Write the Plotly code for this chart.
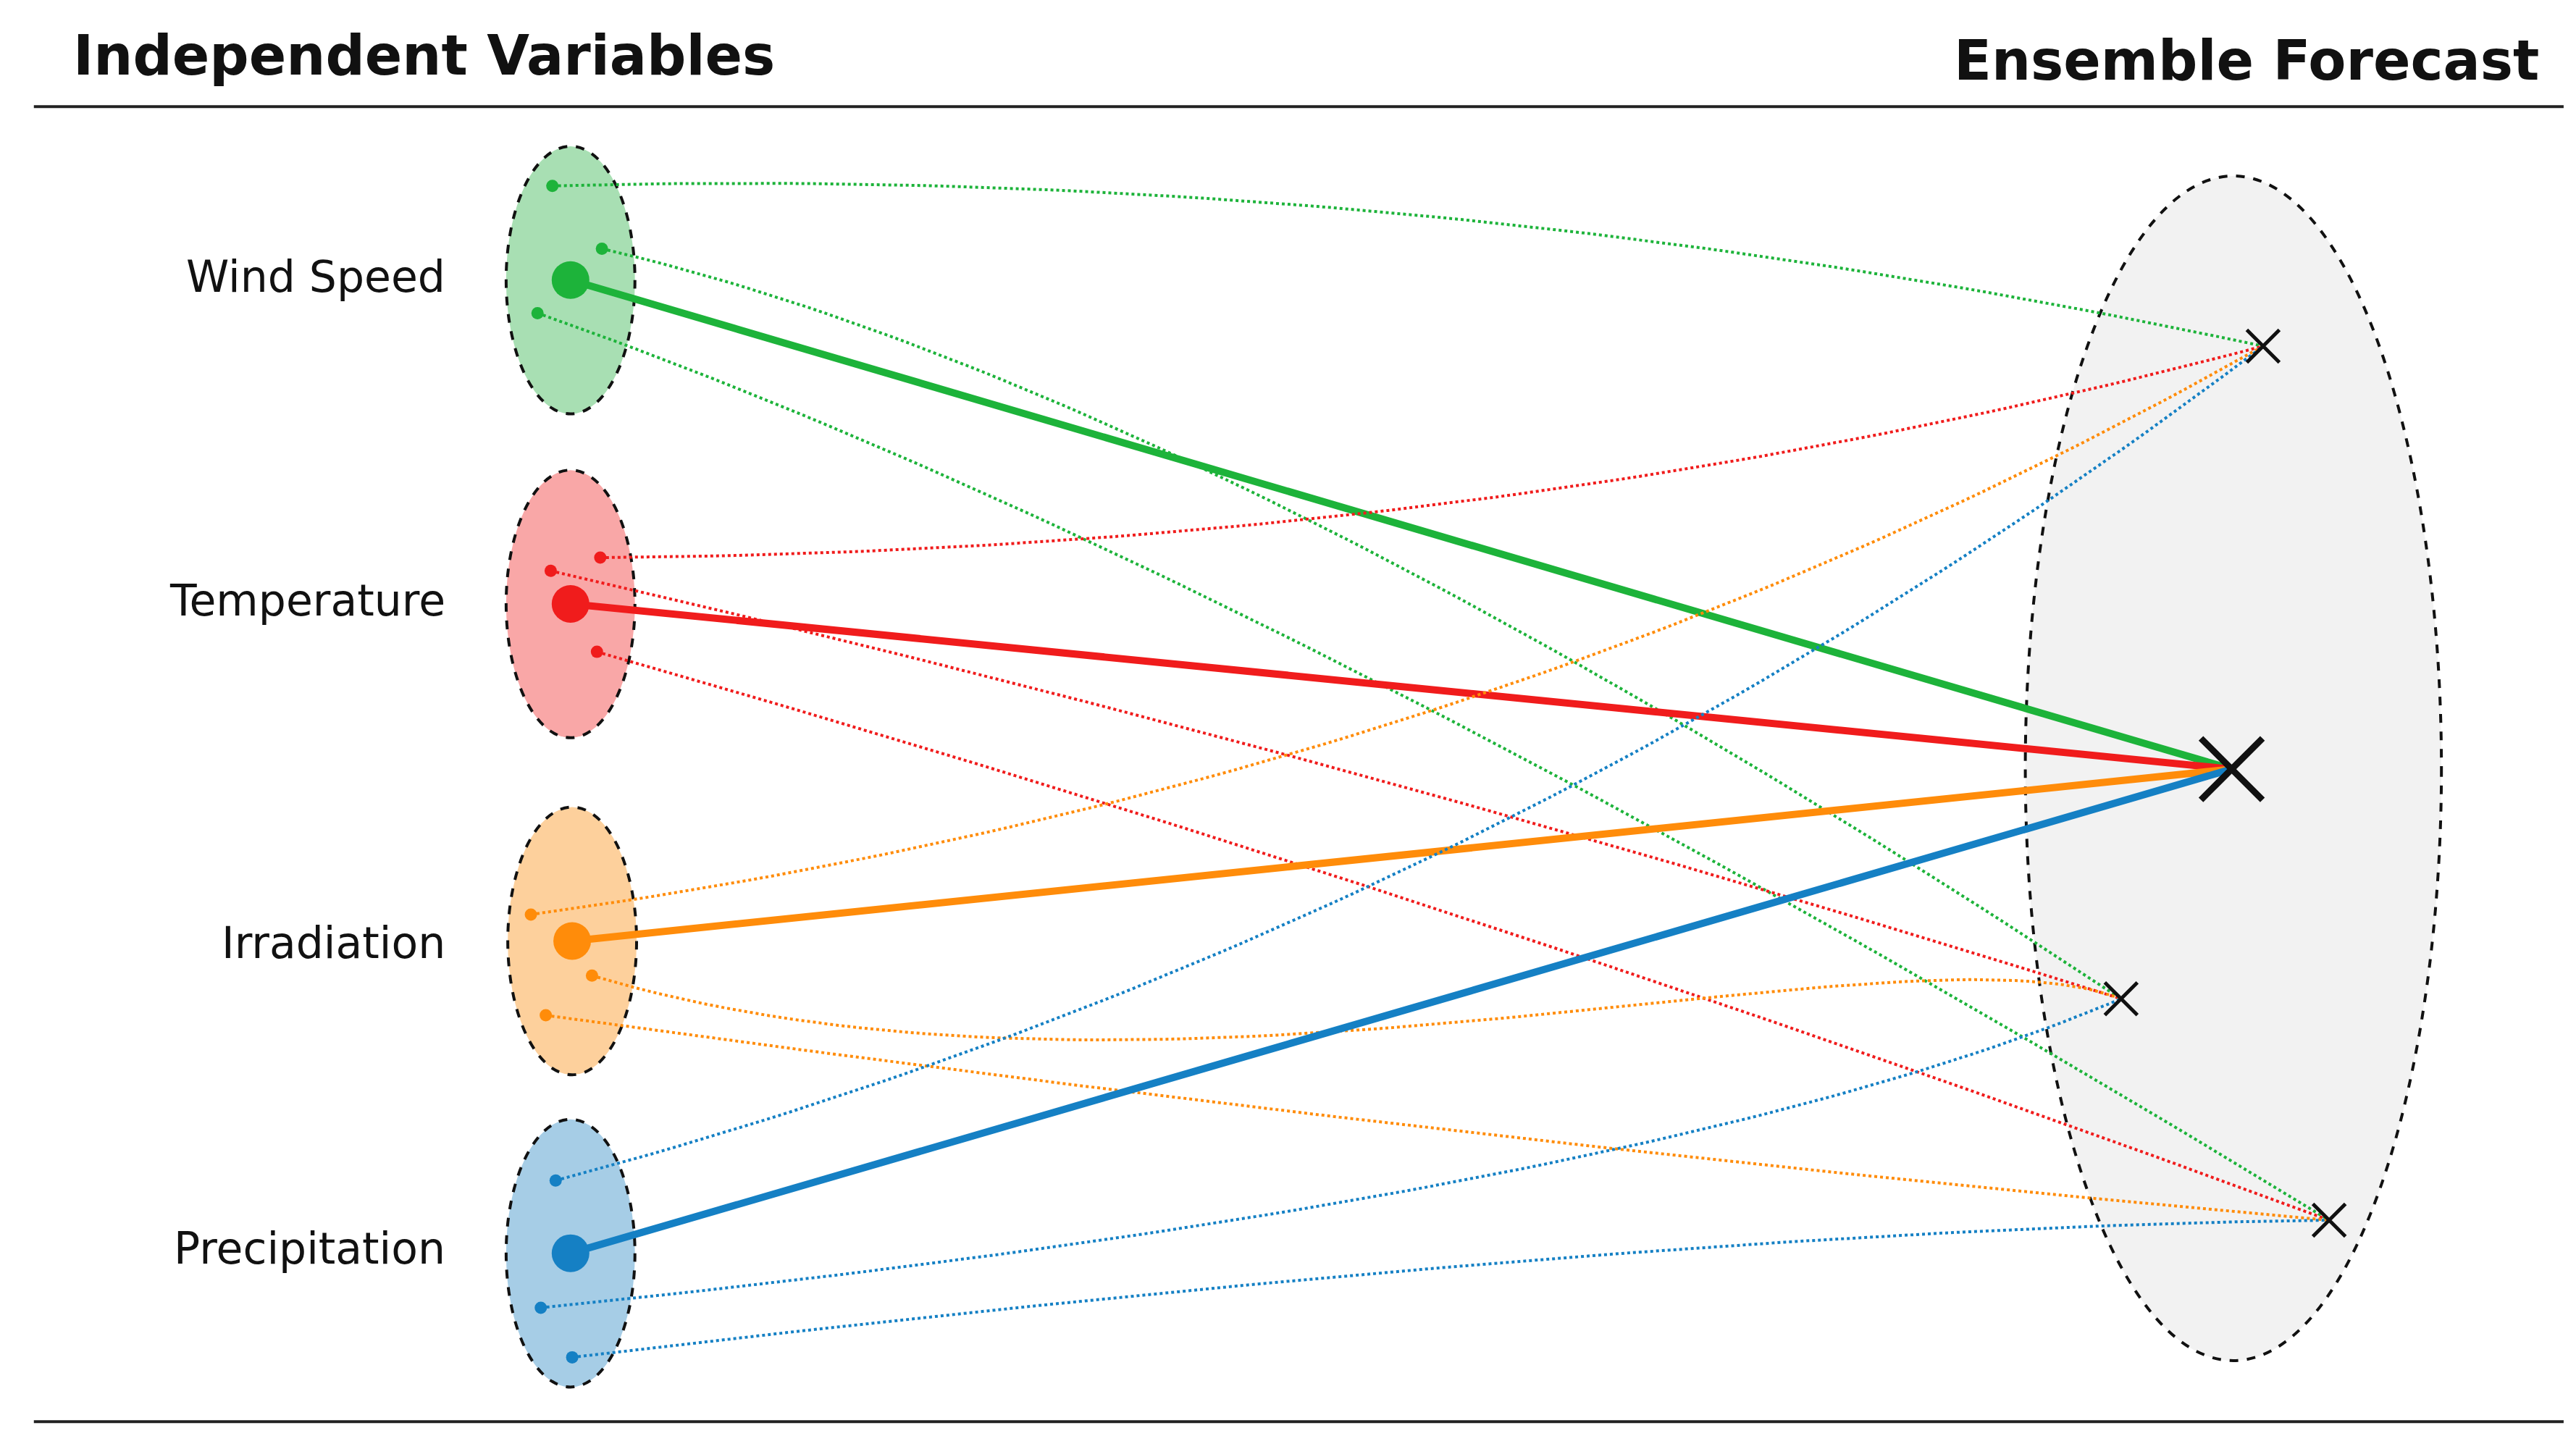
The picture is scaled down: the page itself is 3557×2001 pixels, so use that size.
import plotly.graph_objects as go
import numpy as np

variables = ["Wind Speed", "Temperature", "Irradiation", "Precipitation"]
colors = ["#1db33a", "#f01c1c", "#ff8c0a", "#1580c4"]
fills = ["#a8dfb3", "#f9a7a7", "#fdd09c", "#a6cde6"]
var_x = [342, 342, 343, 342]
var_y = [166, 362, 566, 755]
label_y = [164, 360, 567, 752]

ens_main = (1348, 462)
member_x = [1367, 1281, 1407]
member_y = [206, 601, 735]

members = [
    [(331, 109, 0, [(850, 95)]), (361, 147, 1, [(720, 230)]), (322, 186, 2, [(760, 340)])],
    [(360, 334, 0, [(900, 330)]), (330, 342, 1, [(800, 450)]), (358, 391, 2, [(880, 540)])],
    [(318, 550, 0, [(900, 470)]), (355, 587, 1, [(700, 690), (1150, 550)]), (327, 611, 2, [(900, 690)])],
    [(333, 711, 0, [(900, 560)]), (324, 788, 1, [(1000, 720)]), (343, 818, 2, [(1000, 740)])],
]

def bez(pts, n=80):
    t = np.linspace(0, 1, n)[:, None]
    p = [np.array(q, float) * np.ones((n, 2)) for q in pts]
    while len(p) > 1:
        p = [(1 - t) * p[i] + t * p[i + 1] for i in range(len(p) - 1)]
    return p[0][:, 0], p[0][:, 1]

fig = go.Figure()
shapes = []
shapes.append(dict(type="circle", xref="x", yref="y", x0=1223, x1=1475, y0=103, y1=820,
                   fillcolor="#f2f2f2", line=dict(color="#111", width=4, dash="dash"), layer="below"))
for i in range(4):
    shapes.append(dict(type="circle", xref="x", yref="y", x0=var_x[i] - 39, x1=var_x[i] + 39,
                       y0=var_y[i] - 81, y1=var_y[i] + 81, fillcolor=fills[i],
                       line=dict(color="#111", width=4, dash="dash"), layer="below"))
for y in (61, 857):
    shapes.append(dict(type="line", xref="x", yref="y", x0=17, x1=1549, y0=y, y1=y,
                       line=dict(color="#222", width=4)))

for i in range(4):
    for (mx, my, k, ctrl) in members[i]:
        xs, ys = bez([(mx, my)] + ctrl + [(member_x[k], member_y[k])])
        fig.add_trace(go.Scatter(x=xs, y=ys, mode="lines",
                                 line=dict(color=colors[i], width=4, dash="dot"), hoverinfo="skip"))
    fig.add_trace(go.Scatter(x=[var_x[i], ens_main[0]], y=[var_y[i], ens_main[1]], mode="lines",
                             line=dict(color=colors[i], width=10), hoverinfo="skip"))
    fig.add_trace(go.Scatter(x=[m[0] for m in members[i]], y=[m[1] for m in members[i]], mode="markers",
                             marker=dict(color=colors[i], size=17), hoverinfo="skip"))
    fig.add_trace(go.Scatter(x=[var_x[i]], y=[var_y[i]], mode="markers",
                             marker=dict(color=colors[i], size=52), hoverinfo="skip"))

fig.add_trace(go.Scatter(x=member_x, y=member_y, mode="markers",
                         marker=dict(symbol="x-thin", size=45, line=dict(color="#111", width=5)), hoverinfo="skip"))
fig.add_trace(go.Scatter(x=[ens_main[0]], y=[ens_main[1]], mode="markers",
                         marker=dict(symbol="x-thin", size=85, line=dict(color="#111", width=9)), hoverinfo="skip"))

ann = []
for i in range(4):
    ann.append(dict(x=267, y=label_y[i], text=variables[i], showarrow=False, xanchor="right",
                    font=dict(family="DejaVu Sans", size=60, color="#111")))
ann.append(dict(x=40, y=30, text="<b>Independent Variables</b>", showarrow=False, xanchor="left",
                font=dict(family="DejaVu Sans", size=76, color="#111")))
ann.append(dict(x=1535, y=33, text="<b>Ensemble Forecast</b>", showarrow=False, xanchor="right",
                font=dict(family="DejaVu Sans", size=76, color="#111")))

fig.update_layout(width=3557, height=2001, margin=dict(l=0, r=0, t=0, b=0), showlegend=False,
                  plot_bgcolor="white", paper_bgcolor="white", shapes=shapes, annotations=ann,
                  xaxis=dict(range=[0, 1560], visible=False, fixedrange=True),
                  yaxis=dict(range=[877, 0], visible=False, fixedrange=True))
fig.write_html("out.html")
